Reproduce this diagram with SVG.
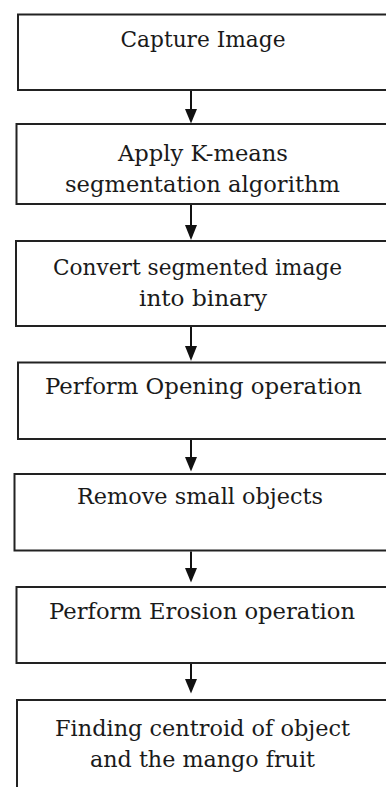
<svg xmlns="http://www.w3.org/2000/svg" width="386" height="787" viewBox="0 0 386 787">
<style>
.box{fill:#fff;stroke:#222;stroke-width:2}
.t{font-family:"DejaVu Serif","Liberation Serif",serif;font-size:22px;fill:#1a1a1a;text-anchor:middle}
.c{stroke:#111;stroke-width:2;fill:none}
.ah{fill:#111}
</style>
<rect width="386" height="787" fill="#fff"/>
<g id="n1"><rect class="box" x="18" y="14.5" width="380" height="75.5"/><text class="t" x="203" y="46.5" textLength="165" lengthAdjust="spacingAndGlyphs">Capture Image</text></g>
<g id="n2"><rect class="box" x="16.5" y="124" width="380" height="80"/><text class="t" x="203" y="161" textLength="170" lengthAdjust="spacingAndGlyphs">Apply K-means</text><text class="t" x="202.5" y="191.5" textLength="275" lengthAdjust="spacingAndGlyphs">segmentation algorithm</text></g>
<g id="n3"><rect class="box" x="16" y="241" width="380" height="85"/><text class="t" x="197.5" y="275" textLength="289" lengthAdjust="spacingAndGlyphs">Convert segmented image</text><text class="t" x="203" y="306" textLength="128" lengthAdjust="spacingAndGlyphs">into binary</text></g>
<g id="n4"><rect class="box" x="18" y="362.5" width="380" height="76.5"/><text class="t" x="203.5" y="394" textLength="317" lengthAdjust="spacingAndGlyphs">Perform Opening operation</text></g>
<g id="n5"><rect class="box" x="14.5" y="474" width="380" height="76.5"/><text class="t" x="200" y="504" textLength="246" lengthAdjust="spacingAndGlyphs">Remove small objects</text></g>
<g id="n6"><rect class="box" x="16.5" y="587" width="380" height="76"/><text class="t" x="202" y="619" textLength="306" lengthAdjust="spacingAndGlyphs">Perform Erosion operation</text></g>
<g id="n7"><rect class="box" x="17" y="700" width="380" height="110"/><text class="t" x="202.5" y="736" textLength="295" lengthAdjust="spacingAndGlyphs">Finding centroid of object</text><text class="t" x="202.5" y="767" textLength="225" lengthAdjust="spacingAndGlyphs">and the mango fruit</text></g>
<g id="connectors">
<line class="c" x1="191" y1="91" x2="191" y2="110"/><path class="ah" d="M185,109 L197,109 L191,123.5 Z"/>
<line class="c" x1="191" y1="205" x2="191" y2="226"/><path class="ah" d="M185,225 L197,225 L191,240 Z"/>
<line class="c" x1="191" y1="327" x2="191" y2="347"/><path class="ah" d="M185,346 L197,346 L191,361 Z"/>
<line class="c" x1="191" y1="440" x2="191" y2="458"/><path class="ah" d="M185,457 L197,457 L191,471.5 Z"/>
<line class="c" x1="191" y1="551.5" x2="191" y2="569"/><path class="ah" d="M185,568 L197,568 L191,582.5 Z"/>
<line class="c" x1="191" y1="664" x2="191" y2="680"/><path class="ah" d="M185,679 L197,679 L191,693.5 Z"/>
</g>
</svg>
